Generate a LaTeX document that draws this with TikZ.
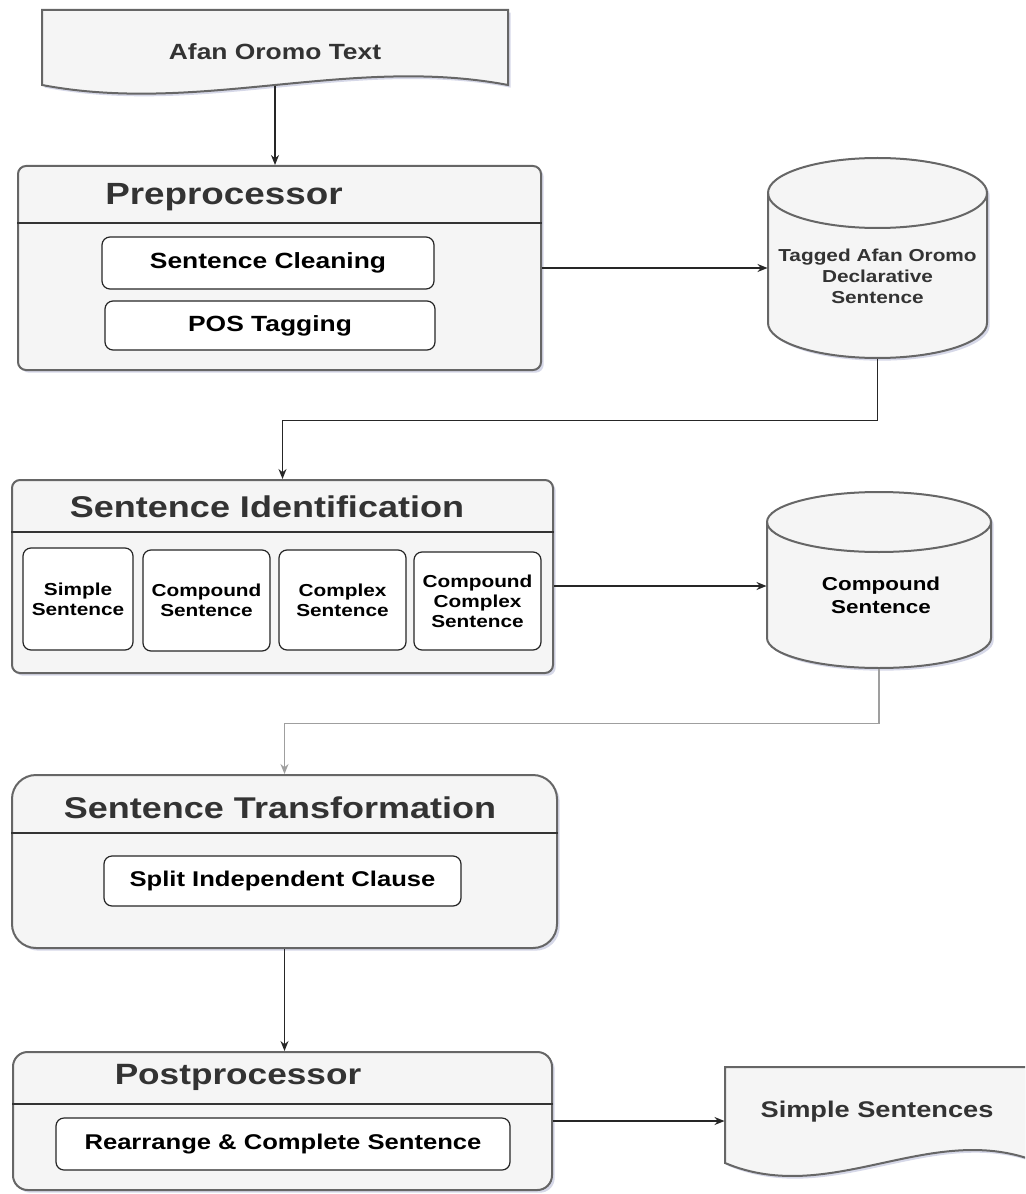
\documentclass[tikz,border=0pt]{standalone}
\usepackage{fontspec}
\newfontfamily\flowfont[FakeStretch=1.2]{Liberation Sans}
\usetikzlibrary{arrows.meta,fit,shadows,calc}

\definecolor{panelfill}{HTML}{F5F5F5}
\definecolor{paneldraw}{HTML}{666666}
\definecolor{titlegray}{HTML}{333333}
\definecolor{shadowblue}{HTML}{A4A8CC}

\tikzset{every picture/.style={line width=0.75pt},
  softshadow/.style={drop shadow={shadow xshift=2pt,shadow yshift=-2pt,fill=shadowblue,opacity=0.45}},
  panel/.style={draw=paneldraw,fill=panelfill,line width=1.5pt,rounded corners=6pt,inner sep=0pt,softshadow},
  hdr/.style={draw=titlegray,line width=1.2pt},
  subbox/.style={draw=black!85,fill=white,line width=0.9pt,rounded corners=6pt,inner sep=0pt},
  docshape/.style={draw=paneldraw,fill=panelfill,line width=1.5pt,softshadow},
  store/.style={draw=paneldraw,fill=panelfill,line width=1.5pt,softshadow},
  storeline/.style={draw=paneldraw,line width=1.5pt},
  ttl/.style={text=titlegray,font=\flowfont\bfseries\fontsize{22.5}{27}\selectfont},
  lbl/.style={text=black,align=center,font=\flowfont\bfseries\fontsize{16.5}{20}\selectfont},
  smalllbl/.style={text=black,align=center,font=\flowfont\bfseries\fontsize{13}{15}\selectfont},
  conn/.style={draw=black!85,line width=1pt,-{Stealth[length=7.5pt,width=6pt]}},
}

\begin{document}
\begin{tikzpicture}[x=0.75pt,y=0.75pt,yscale=-1,xscale=1]
\useasboundingbox (0,0) rectangle (1025,1194);
\clip (0,0) rectangle (1025,1194);

%Shape: Document [id:afan]
\draw[docshape] (42,10) -- (508,10) -- (508,85) .. controls (350,55) and (200,115) .. (42,85) -- cycle ;
\node[lbl,text=titlegray] (afan) at (275,52) {Afan Oromo Text};
\coordinate (afan-b) at (275,86);

%Shape: Preprocessor panel
\node[panel,fit={(18,166) (541,370)}] (pre) {};
\draw[hdr] (pre.west |- 0,223) -- (pre.east |- 0,223);
\node[ttl,font=\flowfont\bfseries\fontsize{23}{27}\selectfont] (pre-title) at (224,197) {Preprocessor};
\node[subbox,fit={(102,237) (434,289)}] (clean) {};
\node[lbl] (clean-txt) at (clean.center) {Sentence Cleaning};
\node[subbox,fit={(105,301) (435,350)}] (pos) {};
\node[lbl] (pos-txt) at (pos.center) {POS Tagging};

%Shape: Can [id:tagged]
\draw[store] (768,193) -- (768,323) arc[start angle=180,end angle=0,x radius=109.5,y radius=35] -- (987,193) arc[start angle=0,end angle=-180,x radius=109.5,y radius=35] -- cycle ;
\draw[storeline] (768,193) arc[start angle=180,end angle=0,x radius=109.5,y radius=35];
\node[fit={(768,158) (987,358)},inner sep=0pt] (cyltag) {};
\node[smalllbl,text=titlegray,font=\flowfont\bfseries\fontsize{13}{15.75}\selectfont] (cyltag-txt) at (877.5,276) {Tagged Afan Oromo\\Declarative\\Sentence};

%Shape: Sentence Identification panel
\node[panel,fit={(12,480) (553,673)}] (sid) {};
\draw[hdr] (sid.west |- 0,532) -- (sid.east |- 0,532);
\node[ttl] (sid-title) at (267,507) {Sentence Identification};
\node[subbox,fit={(23,548) (133,650)}] (simple) {};
\node[smalllbl] (simple-txt) at (simple.center) {Simple\\Sentence};
\node[subbox,fit={(143,550) (270,651)}] (compound) {};
\node[smalllbl] (compound-txt) at (compound.center) {Compound\\Sentence};
\node[subbox,fit={(279,550) (406,650)}] (complex) {};
\node[smalllbl] (complex-txt) at (complex.center) {Complex\\Sentence};
\node[subbox,fit={(414,552) (541,650)}] (compcomplex) {};
\node[smalllbl] (compcomplex-txt) at (compcomplex.center) {Compound\\Complex\\Sentence};

%Shape: Can [id:compound]
\draw[store] (767,522) -- (767,638) arc[start angle=180,end angle=0,x radius=112,y radius=30] -- (991,522) arc[start angle=0,end angle=-180,x radius=112,y radius=30] -- cycle ;
\draw[storeline] (767,522) arc[start angle=180,end angle=0,x radius=112,y radius=30];
\node[fit={(767,492) (991,668)},inner sep=0pt] (cylcomp) {};
\node[smalllbl,font=\flowfont\bfseries\fontsize{14}{17.5}\selectfont] (cylcomp-txt) at (881,595) {Compound\\Sentence};

%Shape: Sentence Transformation panel
\node[panel,rounded corners=18pt,fit={(12,775) (557,948)}] (stf) {};
\draw[hdr] (stf.west |- 0,833) -- (stf.east |- 0,833);
\node[ttl] (stf-title) at (280,808) {Sentence Transformation};
\node[subbox,fit={(104,856) (461,906)}] (split) {};
\node[lbl,font=\flowfont\bfseries\fontsize{16}{20}\selectfont] (split-txt) at (split.center) {Split Independent Clause};

%Shape: Postprocessor panel
\node[panel,rounded corners=11pt,fit={(13,1052) (552,1190)}] (ppr) {};
\draw[hdr] (ppr.west |- 0,1104) -- (ppr.east |- 0,1104);
\node[ttl,font=\flowfont\bfseries\fontsize{22}{27}\selectfont] (ppr-title) at (238,1077) {Postprocessor};
\node[subbox,fit={(56,1118) (510,1170)}] (rearr) {};
\node[lbl,font=\flowfont\bfseries\fontsize{16}{20}\selectfont] (rearr-txt) at (rearr.center) {Rearrange \& Complete Sentence};

%Shape: Document [id:simple]
\draw[docshape] (725,1067) -- (1040,1067) -- (1040,1163) .. controls (933,1118) and (832,1208) .. (725,1163) -- cycle ;
\node[fit={(725,1067) (1040,1176)},inner sep=0pt] (simple-doc) {};
\node[lbl,text=titlegray,font=\flowfont\bfseries\fontsize{17}{20}\selectfont] (simple-doc-txt) at (877,1112) {Simple Sentences};

%Connectors
\draw[conn] (afan-b) -- (afan-b |- pre.north);
\draw[conn] (pre.east) -- (pre.east -| cyltag.west);
\draw[conn] (cyltag.south) -- ++(0,62) -| (sid.north);
\draw[conn] ($(sid.east)+(0,9.5)$) coordinate (sid-out) -- (sid-out -| cylcomp.west);
\draw[conn,draw=gray!75] (cylcomp.south) -- ++(0,55) -| (stf.north);
\draw[conn] (stf.south) -- (stf.south |- ppr.north);
\draw[conn] (ppr.east) -- (ppr.east -| simple-doc.west);

\end{tikzpicture}
\end{document}
